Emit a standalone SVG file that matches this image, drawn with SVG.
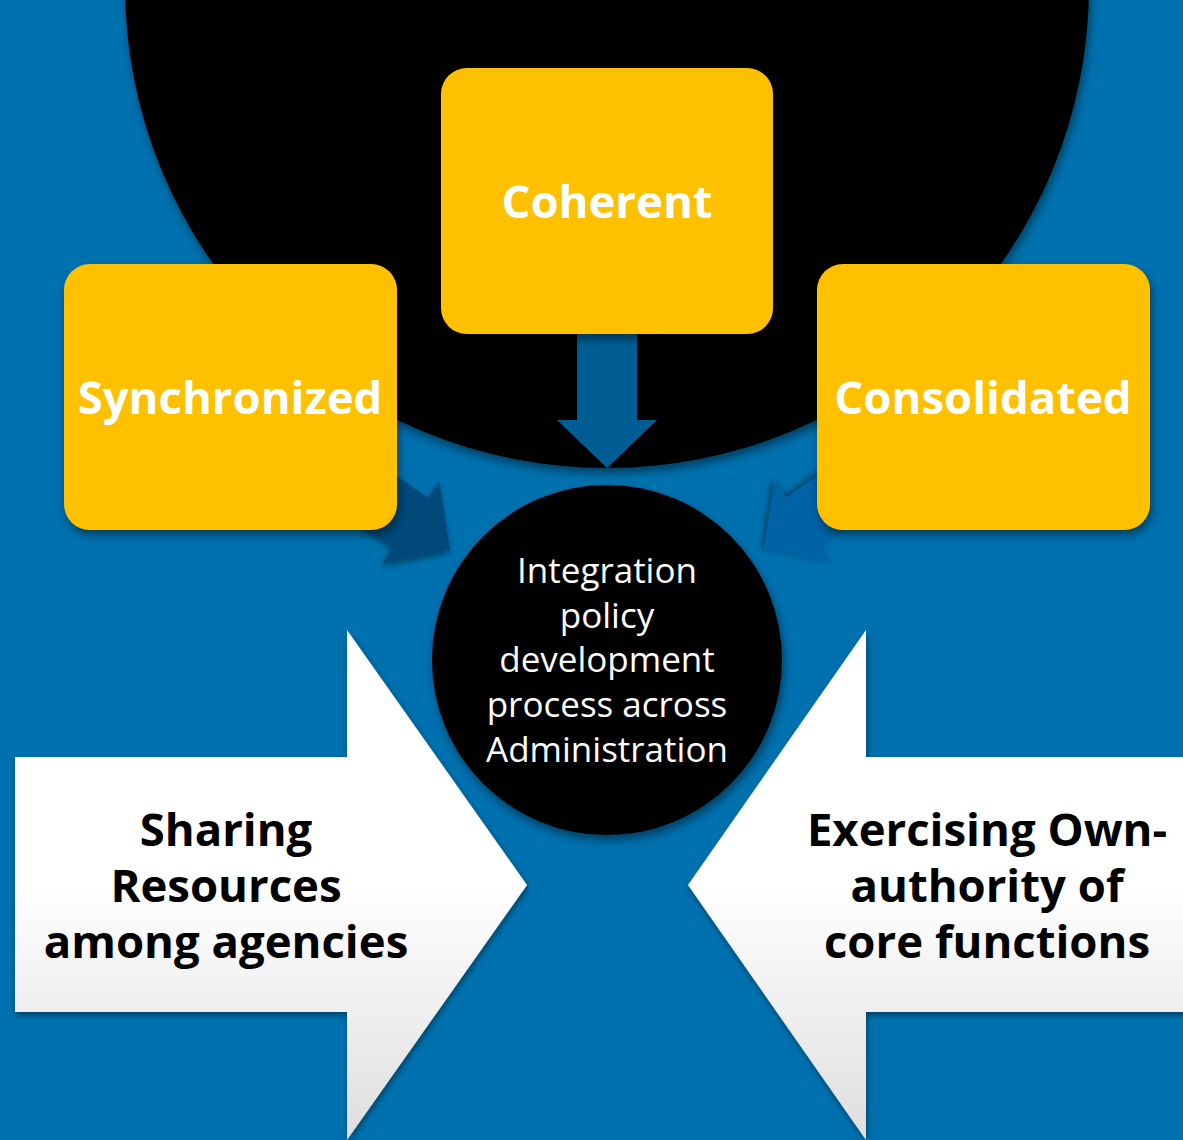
<svg xmlns="http://www.w3.org/2000/svg" width="1183" height="1140" viewBox="0 0 1183 1140">
<defs>
<style>
.box{fill:#FFC000;}
.boxlbl{font-family:"Open Sans","Noto Sans",sans-serif;font-weight:700;font-size:45.5px;fill:#FFFFFF;text-anchor:middle;}
.ctr{font-family:"Open Sans","Noto Sans",sans-serif;font-size:35px;fill:#FFFFFF;text-anchor:middle;}
.big{font-family:"Open Sans","Noto Sans",sans-serif;font-weight:700;font-size:45.5px;fill:#000000;text-anchor:middle;}
</style>
<filter id="sh" x="-20%" y="-20%" width="140%" height="140%">
<feDropShadow dx="2" dy="5" stdDeviation="5" flood-color="#000000" flood-opacity="0.45"/>
</filter>
<filter id="shs" x="-20%" y="-20%" width="140%" height="140%">
<feDropShadow dx="1" dy="3" stdDeviation="3" flood-color="#000000" flood-opacity="0.45"/>
</filter>
<linearGradient id="wg" x1="0" y1="0" x2="0" y2="1">
<stop offset="0" stop-color="#FFFFFF"/>
<stop offset="0.5" stop-color="#FFFFFF"/>
<stop offset="1" stop-color="#DEDEDE"/>
</linearGradient>
<polygon id="arr" points="-134,-30 -48,-30 -48,-50 0,0 -48,50 -48,30 -134,30"/>
</defs>
<rect x="0" y="0" width="1183" height="1140" fill="#0071AF"/>
<g id="backdrop">
<circle cx="607" cy="-14" r="482" fill="#000000" filter="url(#sh)"/>
</g>
<g id="connectors">
<use href="#arr" transform="translate(607,468) rotate(90)" fill="#005D94"/>
<use href="#arr" transform="translate(450,550) rotate(35)" fill="#004A7A" filter="url(#shs)"/>
<use href="#arr" transform="translate(764,550) rotate(145)" fill="#0063A5" filter="url(#shs)"/>
</g>
<g id="synchronized">
<rect class="box" x="64" y="264" width="333" height="266" rx="26" filter="url(#sh)"/>
<text class="boxlbl" x="230" y="414">Synchronized</text>
</g>
<g id="consolidated">
<rect class="box" x="817" y="264" width="333" height="266" rx="26" filter="url(#sh)"/>
<text class="boxlbl" x="983" y="414">Consolidated</text>
</g>
<g id="coherent">
<rect class="box" x="441" y="68" width="332" height="266" rx="26" filter="url(#sh)"/>
<text class="boxlbl" x="607" y="218">Coherent</text>
</g>
<g id="center">
<circle cx="607" cy="660" r="175" fill="#000000" filter="url(#sh)"/>
<text class="ctr" x="607" y="583">Integration</text>
<text class="ctr" x="607" y="628">policy</text>
<text class="ctr" x="607" y="672">development</text>
<text class="ctr" x="607" y="717">process across</text>
<text class="ctr" x="607" y="762">Administration</text>
</g>
<g id="sharing">
<polygon points="15,757 347,757 347,630 527,885 347,1140 347,1012 15,1012" fill="url(#wg)" filter="url(#shs)"/>
<text class="big" x="226" y="846">Sharing</text>
<text class="big" x="226" y="902">Resources</text>
<text class="big" x="226" y="958">among agencies</text>
</g>
<g id="exercising">
<polygon points="1200,757 866,757 866,630 688,885 866,1140 866,1012 1200,1012" fill="url(#wg)" filter="url(#shs)"/>
<text class="big" x="987" y="846">Exercising Own-</text>
<text class="big" x="987" y="902">authority of</text>
<text class="big" x="987" y="958">core functions</text>
</g>
</svg>
